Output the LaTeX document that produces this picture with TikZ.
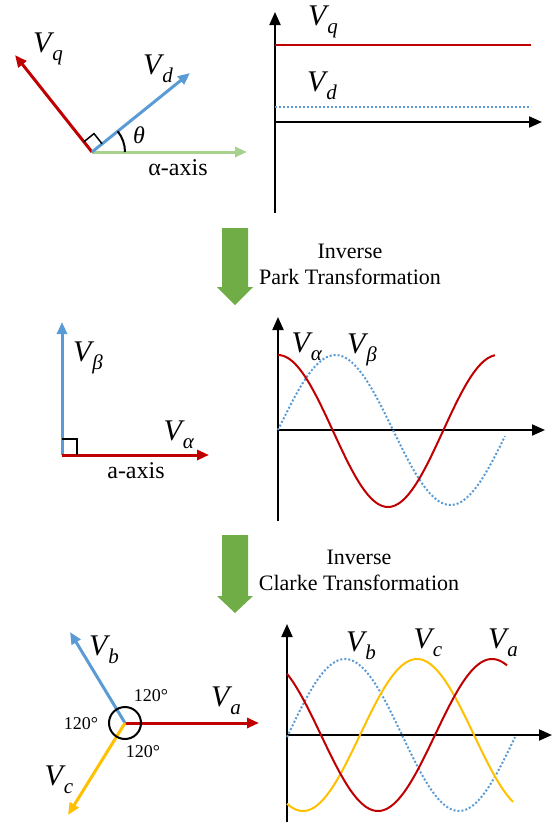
\documentclass[tikz,border=0pt]{standalone}
\usepackage{fontspec}
\setmainfont{Liberation Serif}
\usetikzlibrary{arrows.meta}

\definecolor{vred}{HTML}{C00000}
\definecolor{vblue}{HTML}{5B9BD5}
\definecolor{vgreen}{HTML}{70AD47}
\definecolor{lgreen}{HTML}{A9D18E}
\definecolor{vyellow}{HTML}{FFC000}
\newcommand{\Vsub}[1]{\textit{V}\kern-2pt\raisebox{-8pt}{\fontsize{21}{21}\selectfont\textit{#1}}}

\begin{document}
\begin{tikzpicture}[x=1pt, y=-1pt, line width=2pt,
    vec/.style={line width=3pt, -{Triangle[length=12pt, width=10pt]}},
    axis/.style={line width=2pt, -{Triangle[length=13pt, width=11pt]}},
    dots/.style={vblue, line width=2pt, dash pattern=on 2pt off 2pt},
    lab/.style={font=\fontsize{30}{30}\selectfont, inner sep=0pt},
    txt/.style={font=\fontsize{22}{26}\selectfont, align=center, inner sep=0pt},
    deg/.style={font=\fontsize{18}{18}\selectfont, inner sep=0pt}]
    \useasboundingbox (0,0) rectangle (553,825);

    % d-q frame
    \coordinate (o1) at (92,152);
    \coordinate (q1) at (15,55);
    \coordinate (d1) at (190,73);
    \coordinate (al1) at (247,152);
    \draw[vec, lgreen] (o1) -- (al1);
    \draw[vec, vred] (o1) -- (q1);
    \draw[vec, vblue] (o1) -- (d1);
    \draw[line width=1.5pt] (83.9,141.8) -- ++(10.1,-8.2) -- ++(8.1,10.2);
    \draw[line width=2pt] ([xshift=33pt]o1) arc[start angle=0, end angle=39, radius=33pt];
    \node[lab] (lq1) at (48,49) {\Vsub{q}};
    \node[lab] (ld1) at (158,69) {\Vsub{d}};
    \node[lab, font=\fontsize{24}{24}\selectfont\itshape] (th) at (139,135) {θ};
    \node[txt, font=\fontsize{24}{24}\selectfont] (ax1) at (178,168) {α-axis};

    % dc signals
    \draw[axis] (275,213) -- (275,12);
    \draw[axis] (275,122) -- (542,122);
    \draw[vred] (275,45) -- (531,45);
    \draw[dots] (275,107) -- (531,107);
    \node[lab] (gq) at (323,22) {\Vsub{q}};
    \node[lab] (gd) at (322,86) {\Vsub{d}};

    % inverse park
    \fill[vgreen] (222,228) -- (248,228) -- (248,287) -- (253,287) -- (235,305) -- (217,287) -- (222,287) -- cycle;
    \node[txt] (park) at (350,264) {Inverse\\Park Transformation};

    % alpha-beta frame
    \coordinate (o2) at (62,455);
    \coordinate (b2) at (62,322);
    \coordinate (a2) at (209,455);
    \draw[vec, vblue] (o2) -- (b2);
    \draw[vec, vred] (o2) -- (a2);
    \draw[line width=1.5pt] (62,439) -- (77,439) -- (77,455);
    \node[lab] (lb2) at (88,358) {\Vsub{β}};
    \node[lab] (la2) at (179,435) {\Vsub{α}};
    \node[txt, font=\fontsize{24}{24}\selectfont] (ax2) at (136,471) {a-axis};

    % alpha-beta signals
    \draw[axis] (278,521) -- (278,317);
    \draw[axis] (278,430) -- (545,430);
    \draw[dots] plot[domain=278:505, samples=90, smooth] (\x, {430-75*sin((\x-278)/230*360)});
    \draw[vred] plot[domain=278:495, samples=90, smooth] (\x, {431-76*cos((\x-278)/220*360)});
    \node[lab] (ga) at (307,347) {\Vsub{α}};
    \node[lab] (gb) at (362,350) {\Vsub{β}};

    % inverse clarke
    \fill[vgreen] (222,535) -- (248,535) -- (248,596) -- (253,596) -- (235,613) -- (217,596) -- (222,596) -- cycle;
    \node[txt] (clarke) at (359,570) {Inverse\\Clarke Transformation};

    % abc frame
    \coordinate (o3) at (125,723);
    \coordinate (a3) at (259,723);
    \coordinate (b3) at (70,632);
    \coordinate (c3) at (68,815);
    \draw[vec, vred] (o3) -- (a3);
    \draw[vec, vblue] (o3) -- (b3);
    \draw[vec, vyellow] (o3) -- (c3);
    \draw[line width=2pt] (o3) circle[radius=16pt];
    \node[lab] (lb3) at (104,650) {\Vsub{b}};
    \node[lab] (la3) at (226,701) {\Vsub{a}};
    \node[lab] (lc3) at (59,780) {\Vsub{c}};
    \node[deg] (deg1) at (151,696) {120°};
    \node[deg] (deg2) at (81,724) {120°};
    \node[deg] (deg3) at (143,752) {120°};

    % abc signals
    \draw[axis] (287,822) -- (287,624);
    \draw[axis] (287,735) -- (552,735);
    \draw[dots] plot[domain=287:515, samples=90, smooth] (\x, {735-76*cos((\x-345)/228*360)});
    \draw[vyellow] plot[domain=287:513, samples=90, smooth] (\x, {735-76*cos((\x-417)/228*360)});
    \draw[vred] plot[domain=287:507, samples=90, smooth] (\x, {735-76*cos((\x-492)/228*360)});
    \node[lab] (gb3) at (361,646) {\Vsub{b}};
    \node[lab] (gc3) at (428,643) {\Vsub{c}};
    \node[lab] (ga3) at (503,643) {\Vsub{a}};
\end{tikzpicture}
\end{document}
